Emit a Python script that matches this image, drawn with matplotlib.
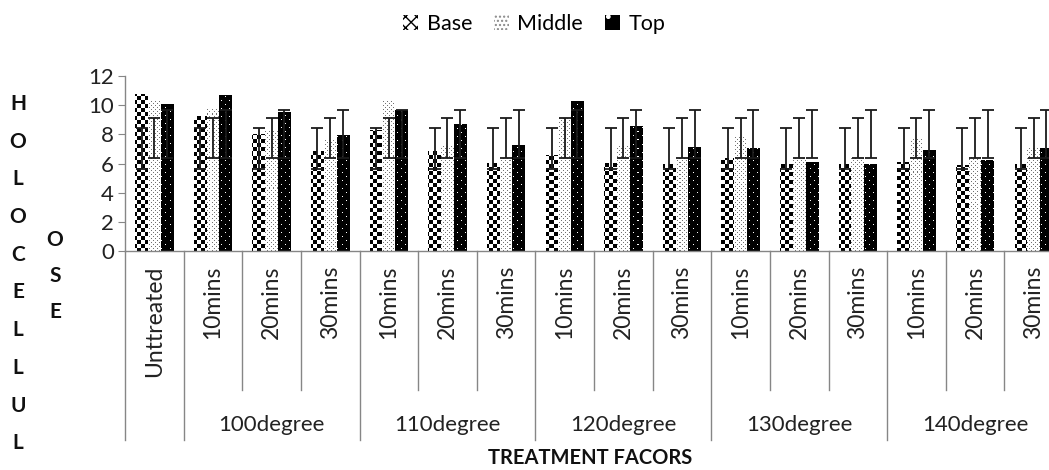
import numpy as np
import matplotlib
matplotlib.use("Agg")
import matplotlib.pyplot as plt
from matplotlib.patches import Patch
from matplotlib.lines import Line2D
import matplotlib.transforms as mtransforms

plt.rcParams['font.family'] = ['Lato', 'DejaVu Sans']

# ---------------- data ----------------
series_names = ["Base", "Middle", "Top"]
categories = ["Unttreated",
              "10mins", "20mins", "30mins",
              "10mins", "20mins", "30mins",
              "10mins", "20mins", "30mins",
              "10mins", "20mins", "30mins",
              "10mins", "20mins", "30mins"]
groups = ["100degree", "110degree", "120degree", "130degree", "140degree"]

base = [10.8, 9.25, 8.05, 6.87, 8.3, 6.87, 6.05, 6.55, 6.05, 5.96, 6.35, 5.96, 5.96, 6.07, 5.9, 5.96]
middle = [10.3, 9.77, 8.3, 7.6, 10.3, 7.26, 6.35, 9.1, 7.26, 6.35, 7.83, 6.35, 6.35, 7.7, 6.45, 7.1]
top = [10.1, 10.68, 9.55, 7.95, 9.7, 8.7, 7.3, 10.27, 8.6, 7.1, 7.03, 6.07, 5.96, 6.96, 6.23, 7.03]

# error bar extents (lower / upper ends)
base_err_low = [5.6] * 16
base_err_high = [8.45] * 16
middle_err_low = [6.35] * 16
middle_err_high = [9.13] * 16
top_err_low = [6.4] * 16
top_err_high = [9.7] * 16

yticks = [0, 2, 4, 6, 8, 10, 12]
ylabel_text = "HOLOCELLULOSE"
xlabel_text = "TREATMENT FACORS"

# ---------------- figure ----------------
W, H = 1049, 470
fig = plt.figure(figsize=(W / 100, H / 100), dpi=100)
ax_left, ax_bottom = 125 / W, (H - 251) / H
ax_w, ax_h = (1063 - 125) / W, (251 - 76) / H
ax = fig.add_axes([ax_left, ax_bottom, ax_w, ax_h])

n = len(categories)
ax.set_xlim(0, n)
ax.set_ylim(0, 12)

# textures (pixel based)
pw, ph = int(round(ax_w * W)), int(round(ax_h * H))
yy, xx = np.mgrid[0:ph, 0:pw]

def rgb(mask_dark, dark, light):
    img = np.empty((ph, pw, 3))
    img[:] = light
    img[mask_dark] = dark
    return img

checker = ((xx // 4) + (yy // 4)) % 2 == 0
tex_base = rgb(checker, (0, 0, 0), (1, 1, 1))
dots = ((xx % 4 == 0) & (yy % 4 == 0)) | ((xx % 4 == 2) & (yy % 4 == 2))
tex_mid = rgb(dots, (0.45, 0.45, 0.45), (1, 1, 1))
wdots = ((xx % 8 == 0) & (yy % 8 == 0)) | ((xx % 8 == 4) & (yy % 8 == 4))
tex_top = rgb(~wdots, (0, 0, 0), (1, 1, 1))
textures = [tex_base, tex_mid, tex_top]

x = np.arange(n) + 0.5
bw = 0.217
data = [base, middle, top]
errs = [(base_err_low, base_err_high), (middle_err_low, middle_err_high), (top_err_low, top_err_high)]

for i, (vals, tex) in enumerate(zip(data, textures)):
    xs = x + (i - 1) * bw
    bars = ax.bar(xs, vals, bw, facecolor='none', edgecolor='none', zorder=2)
    for p in bars.patches:
        im = ax.imshow(tex, extent=(0, n, 0, 12), aspect='auto',
                       interpolation='nearest', zorder=1, origin='upper')
        im.set_clip_path(p)
    lo, hi = errs[i]
    lo = np.array(lo); hi = np.array(hi)
    mid = (lo + hi) / 2
    ax.errorbar(xs, mid, yerr=[mid - lo, hi - mid], fmt='none', ecolor='#1a1a1a',
                elinewidth=1.3, capsize=4, capthick=1.3, zorder=4)

ax.set_xlim(0, n)
ax.set_ylim(0, 12)

# axes styling
grey = '#868686'
for s in ['top', 'right']:
    ax.spines[s].set_visible(False)
for s in ['left', 'bottom']:
    ax.spines[s].set_color(grey)
    ax.spines[s].set_linewidth(1.0)
ax.set_yticks(yticks)
ax.tick_params(axis='y', length=5, color=grey, labelsize=16, labelcolor='#222222', pad=3)
ax.set_xticks([])

# multi-level category axis
trans = mtransforms.blended_transform_factory(ax.transData, ax.transAxes)
px = 1 / (251 - 76)  # axes fraction per pixel (vertical)
minor_end = -(390 - 251) * px
major_end = -(440 - 251) * px
major_bounds = [0, 1, 4, 7, 10, 13, 16]
for k in range(0, n + 1):
    y_end = major_end if k in major_bounds else minor_end
    ax.add_line(Line2D([k, k], [0, y_end], transform=trans, color=grey,
                       lw=1.0, clip_on=False))

for i, lab in enumerate(categories):
    ax.text(x[i], -(266 - 251) * px, lab, transform=trans, rotation=90,
            ha='center', va='top', fontsize=16.5, color='#222222')
for g, lab in enumerate(groups):
    cx = 1 + 3 * g + 1.5
    ax.text(cx, -(425 - 251) * px, lab, transform=trans, ha='center', va='center',
            fontsize=16, color='#222222')

# x title
fig.text(590 / W, 1 - 458 / H, xlabel_text, ha='center', va='center',
         fontsize=14.5, fontweight='bold', color='#111111')

# stacked y label
col1 = ylabel_text[:10]
col2 = ylabel_text[10:]
for j, ch in enumerate(col1):
    fig.text(18 / W, 1 - (104 + 37.7 * j) / H, ch, ha='center', va='center',
             fontsize=15, fontweight='bold', color='#111111')
for j, ch in enumerate(col2):
    fig.text(55 / W, 1 - (240 + 36 * j) / H, ch, ha='center', va='center',
             fontsize=15, fontweight='bold', color='#111111')

# legend
handles = [Patch(facecolor='white', edgecolor='black', hatch='xxx', lw=0),
           Patch(facecolor='white', edgecolor='#888888', hatch='....', lw=0),
           Patch(facecolor='black', edgecolor='white', hatch='.', lw=0)]
fig.legend(handles, series_names, loc='center', bbox_to_anchor=(534 / W, 1 - 24 / H),
           ncol=3, frameon=False, fontsize=15.5, handlelength=0.7, handleheight=0.7,
           handletextpad=0.4, columnspacing=1.0)

fig.savefig('out.png', dpi=100)
